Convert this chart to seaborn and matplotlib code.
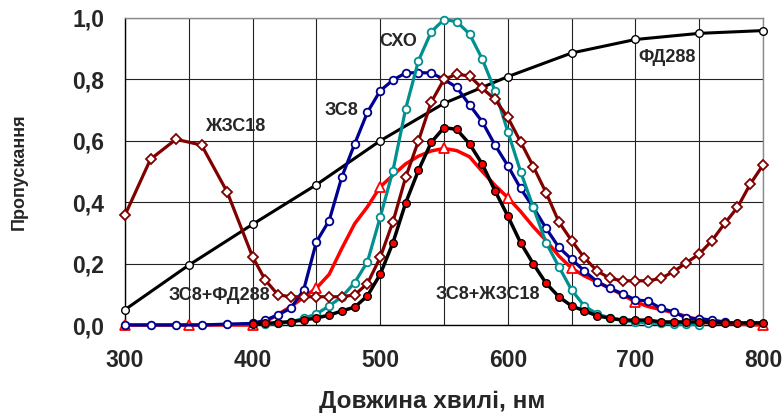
import matplotlib
matplotlib.use("Agg")
import matplotlib.pyplot as plt
from matplotlib import font_manager
from matplotlib.ticker import MultipleLocator, FixedLocator, FixedFormatter
import seaborn as sns
import numpy as np

# ---------------- data ----------------
x_fd288 = [300, 350, 400, 450, 500, 550, 600, 650, 700, 750, 800]
y_fd288 = [0.05, 0.195, 0.328, 0.457, 0.60, 0.722, 0.809, 0.886, 0.93, 0.95, 0.959]

x_zs8 = [300, 320, 340, 360, 380, 400, 410, 420, 430, 440, 450, 460, 470, 480, 490,
         500, 510, 520, 530, 540, 550, 560, 570, 580, 590, 600, 610, 620, 630, 640,
         650, 660, 670, 680, 690, 700, 710, 720, 730, 740, 750, 760, 770]
y_zs8 = [0.0, 0.0, 0.0, 0.0, 0.003, 0.005, 0.016, 0.033, 0.055, 0.114, 0.271, 0.34, 0.483, 0.59, 0.693,
         0.763, 0.798, 0.821, 0.822, 0.821, 0.80, 0.774, 0.717, 0.662, 0.586, 0.519, 0.445, 0.383, 0.315, 0.253,
         0.214, 0.176, 0.141, 0.119, 0.102, 0.082, 0.078, 0.054, 0.043, 0.022, 0.021, 0.016, 0.01]

x_zhzs18 = [300, 320, 340, 360, 380, 400, 410, 420, 430, 440, 450, 460, 470, 480, 490,
            500, 510, 520, 530, 540, 550, 560, 570, 580, 590, 600, 610, 620, 630, 640,
            650, 660, 670, 680, 690, 700, 710, 720, 730, 740, 750, 760, 770, 780, 790, 800]
y_zhzs18 = [0.358, 0.54, 0.605, 0.586, 0.434, 0.222, 0.146, 0.098, 0.092, 0.092, 0.092, 0.092, 0.092, 0.098, 0.135,
            0.22, 0.336, 0.482, 0.60, 0.726, 0.80, 0.817, 0.811, 0.771, 0.735, 0.676, 0.597, 0.516, 0.431, 0.336,
            0.275, 0.219, 0.176, 0.152, 0.144, 0.144, 0.144, 0.152, 0.174, 0.203, 0.231, 0.275, 0.331, 0.383, 0.459, 0.521]

x_sho = [410, 420, 430, 440, 450, 460, 470, 480, 490, 500, 510, 520, 530, 540, 550, 560, 570,
         580, 590, 600, 610, 620, 630, 640, 650, 660, 670, 680, 690, 700, 710, 720, 730, 740, 750]
y_sho = [0.002, 0.005, 0.01, 0.022, 0.036, 0.062, 0.092, 0.138, 0.206, 0.351, 0.503, 0.705, 0.861, 0.955, 0.995, 0.988, 0.948,
         0.866, 0.763, 0.63, 0.50, 0.383, 0.268, 0.19, 0.114, 0.062, 0.036, 0.023, 0.015, 0.01, 0.007, 0.005, 0.003, 0.002, 0.001]

x_zs8_fd = [300, 350, 400, 410, 420, 430, 440, 450, 460, 470, 480, 490, 500, 510, 520, 530, 540,
            550, 560, 570, 580, 590, 600, 610, 620, 630, 640, 650, 660, 670, 680, 690, 700,
            710, 720, 730, 740, 750, 760, 770, 780, 790, 800]
y_zs8_fd = [0.0, 0.0, 0.0, 0.01, 0.035, 0.06, 0.09, 0.12, 0.165, 0.25, 0.33, 0.385, 0.45, 0.488, 0.525, 0.55, 0.567,
            0.575, 0.568, 0.548, 0.5, 0.455, 0.415, 0.37, 0.32, 0.275, 0.225, 0.185, 0.16, 0.14, 0.12, 0.098, 0.075,
            0.06, 0.05, 0.04, 0.028, 0.016, 0.01, 0.006, 0.003, 0.001, 0.0]
marked_zs8_fd = [300, 350, 400, 450, 500, 550, 600, 650, 700, 750, 800]

x_zs8_zh = [400, 410, 420, 430, 440, 450, 460, 470, 480, 490, 500, 510, 520, 530, 540, 550, 560, 570,
            580, 590, 600, 610, 620, 630, 640, 650, 660, 670, 680, 690, 700, 710, 720, 730, 740,
            750, 760, 770, 780, 790, 800]
y_zs8_zh = [0.003, 0.005, 0.008, 0.011, 0.016, 0.023, 0.032, 0.046, 0.058, 0.095, 0.165, 0.268, 0.398, 0.504, 0.595, 0.643, 0.637, 0.59,
            0.524, 0.437, 0.355, 0.268, 0.199, 0.136, 0.092, 0.062, 0.046, 0.03, 0.022, 0.016, 0.016, 0.016, 0.01, 0.01, 0.01,
            0.01, 0.007, 0.007, 0.007, 0.007, 0.007]

x_ticks = [300, 400, 500, 600, 700, 800]
y_ticks = [0.0, 0.2, 0.4, 0.6, 0.8, 1.0]
y_tick_labels = ["0,0", "0,2", "0,4", "0,6", "0,8", "1,0"]

labels = ["СХО", "ЗС8", "ЖЗС18", "ФД288", "ЗС8+ФД288", "ЗС8+ЖЗС18"]
label_pos = [(514, 0.922), (470, 0.70), (386, 0.648), (725, 0.871), (374, 0.096), (584, 0.098)]

# ---------------- style ----------------
sns.set_theme(style="white")
names = {f.name for f in font_manager.fontManager.ttflist}
plt.rcParams['font.family'] = ['Liberation Sans', 'DejaVu Sans']
narrow = 'Liberation Sans Narrow' in names
lab_family = ['Liberation Sans Narrow', 'Liberation Sans', 'DejaVu Sans'] if narrow else ['Liberation Sans', 'DejaVu Sans']
lab_size = 15.5 if narrow else 13

fig = plt.figure(figsize=(7.84, 4.17), dpi=100)
ax = fig.add_axes([125/784, 1-325/417, 638/784, 307/417])

C_DR = "#800000"
C_NV = "#000090"
C_TL = "#009090"
C_RD = "#FF0000"

sns.lineplot(x=x_fd288, y=y_fd288, ax=ax, color="black", linewidth=2.2,
             marker="o", markersize=5.5, markerfacecolor="white",
             markeredgecolor="black", markeredgewidth=1.0, clip_on=False, zorder=3)
sns.lineplot(x=x_zs8_fd, y=y_zs8_fd, ax=ax, color=C_RD, linewidth=2.5,
             marker="^", markersize=7.5, markerfacecolor="white",
             markeredgecolor=C_RD, markeredgewidth=1.3, clip_on=False, zorder=4,
             markevery=[i for i, v in enumerate(x_zs8_fd) if v in marked_zs8_fd])
sns.lineplot(x=x_zs8, y=y_zs8, ax=ax, color=C_NV, linewidth=2.3,
             marker="o", markersize=5.5, markerfacecolor="white",
             markeredgecolor=C_NV, markeredgewidth=1.3, clip_on=False, zorder=5)
sns.lineplot(x=x_sho, y=y_sho, ax=ax, color=C_TL, linewidth=2.3,
             marker="o", markersize=5.5, markerfacecolor="white",
             markeredgecolor=C_TL, markeredgewidth=1.3, clip_on=False, zorder=6)
sns.lineplot(x=x_zhzs18, y=y_zhzs18, ax=ax, color=C_DR, linewidth=2.3,
             marker="D", markersize=5, markerfacecolor="white",
             markeredgecolor=C_DR, markeredgewidth=1.3, clip_on=False, zorder=7)
sns.lineplot(x=x_zs8_zh, y=y_zs8_zh, ax=ax, color="black", linewidth=2.5,
             marker="o", markersize=5.5, markerfacecolor=C_RD,
             markeredgecolor="black", markeredgewidth=1.0, clip_on=False, zorder=8)

ax.set_xlim(300, 800)
ax.set_ylim(0, 1.0)
ax.xaxis.set_major_locator(FixedLocator(x_ticks))
ax.xaxis.set_minor_locator(MultipleLocator(50))
ax.yaxis.set_major_locator(FixedLocator(y_ticks))
ax.yaxis.set_major_formatter(FixedFormatter(y_tick_labels))
ax.grid(True, which="both", axis="x", color="#222222", linewidth=0.8, zorder=0)
ax.grid(True, which="major", axis="y", color="#222222", linewidth=0.8, zorder=0)
ax.set_axisbelow(True)
ax.tick_params(axis="both", which="both", length=0)
ax.tick_params(axis="x", pad=17, labelsize=16.5)
ax.tick_params(axis="y", pad=15, labelsize=16.5)
for t in ax.get_xticklabels() + ax.get_yticklabels():
    t.set_fontweight("bold")
for s in ["left", "bottom"]:
    ax.spines[s].set_color("black")
    ax.spines[s].set_linewidth(1.0)
for s in ["top", "right"]:
    ax.spines[s].set_color("#8a8a8a")
    ax.spines[s].set_linewidth(1.0)

ax.set_xlabel("Довжина хвилі, нм", fontsize=17.5, fontweight="bold")
ax.set_ylabel("Пропускання", fontsize=13, fontweight="bold")
ax.xaxis.set_label_coords(0.481, -0.212)
ax.yaxis.set_label_coords(-0.152, 0.498)

for txt, (lx, ly) in zip(labels, label_pos):
    ax.text(lx, ly, txt, fontsize=lab_size, fontweight="bold", family=lab_family,
            ha="center", va="center", zorder=10)

fig.savefig("out.png", dpi=100)
